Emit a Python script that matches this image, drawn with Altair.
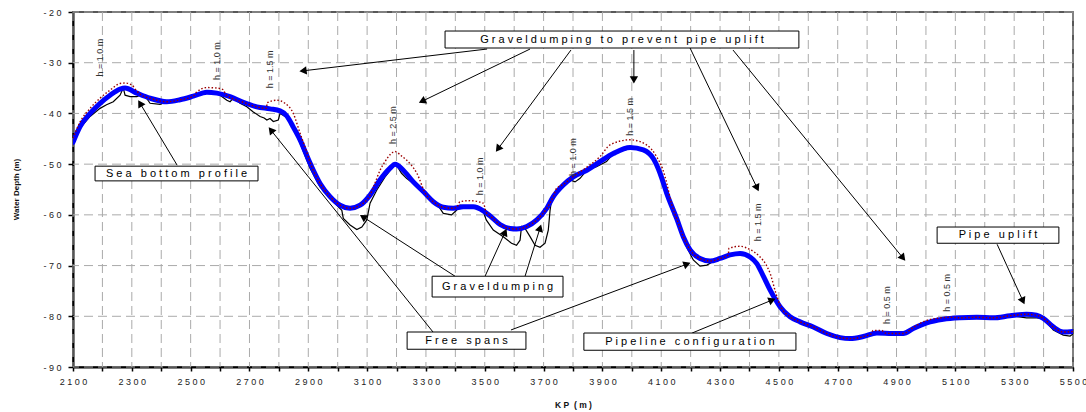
import math
import altair as alt
import pandas as pd

# ---------------- data ----------------
pipe_kp = [2100, 2124, 2158, 2192, 2226, 2260, 2277, 2317, 2362, 2419, 2464, 2509, 2555, 2589,
           2634, 2679, 2725, 2770, 2804, 2827, 2850, 2872, 2906, 2940, 2974, 3008, 3042, 3076,
           3110, 3144, 3178, 3195, 3223, 3257, 3291, 3325, 3359, 3393, 3427, 3461, 3495, 3518,
           3552, 3586, 3609, 3643, 3677, 3711, 3733, 3767, 3801, 3847, 3892, 3937, 3994, 4039,
           4073, 4096, 4119, 4153, 4175, 4198, 4232, 4266, 4300, 4334, 4368, 4402, 4425, 4448,
           4470, 4504, 4538, 4572, 4617, 4663, 4708, 4742, 4787, 4833, 4889, 4923, 4957, 5003,
           5059, 5116, 5173, 5229, 5286, 5342, 5376, 5399, 5433, 5467, 5500]
pipe_depth = [-45.7, -42.6, -40.0, -38.0, -36.4, -35.2, -35.0, -36.0, -37.0, -37.7, -37.3, -36.6,
              -35.8, -36.0, -36.7, -37.8, -38.7, -39.1, -39.5, -40.5, -42.8, -45.2, -49.8, -53.8,
              -56.4, -58.1, -58.7, -58.1, -56.1, -53.1, -50.8, -50.0, -51.2, -53.5, -55.4, -57.4,
              -58.5, -58.7, -58.4, -58.4, -59.2, -60.2, -61.9, -62.7, -62.8, -62.3, -61.0, -58.7,
              -56.4, -54.1, -52.5, -51.2, -49.5, -47.9, -46.7, -47.2, -48.9, -51.8, -55.8, -60.8,
              -64.3, -66.9, -68.6, -69.1, -68.6, -67.9, -67.6, -68.3, -69.6, -72.2, -74.8, -78.1,
              -80.1, -81.1, -82.1, -83.4, -84.2, -84.4, -84.0, -83.3, -83.4, -83.4, -82.4, -81.3,
              -80.6, -80.3, -80.2, -80.3, -79.9, -79.6, -79.8, -80.4, -82.1, -83.1, -83.0]

gravel_kp = [2100, 2124, 2158, 2192, 2226, 2260, 2277, 2300, 2317, 2330, 2362, 2419, 2464, 2509,
             2520, 2555, 2589, 2610, 2620, 2679, 2725, 2758, 2760, 2793, 2821, 2849, 2872, 2890,
             2906, 2940, 2974, 3008, 3042, 3076, 3110, 3125, 3144, 3161, 3180, 3195, 3215, 3234,
             3269, 3300, 3325, 3359, 3393, 3405, 3416, 3450, 3495, 3505, 3518, 3552, 3586, 3609,
             3643, 3677, 3711, 3733, 3744, 3767, 3801, 3847, 3892, 3926, 3994, 4050, 4084, 4105,
             4119, 4135, 4153, 4175, 4198, 4232, 4266, 4300, 4328, 4330, 4368, 4400, 4436, 4460,
             4470, 4490, 4504, 4538, 4572, 4617, 4663, 4708, 4742, 4787, 4815, 4820, 4850, 4860,
             4889, 4923, 4957, 5003, 5040, 5082, 5116, 5173, 5229, 5286, 5342, 5376, 5399, 5433,
             5467, 5500]
gravel_depth = [-44.9, -41.7, -39.0, -37.0, -35.4, -34.1, -34.0, -34.4, -35.6, -36.3, -37.0, -37.7,
                -37.3, -36.6, -35.8, -34.9, -35.0, -35.3, -36.3, -37.8, -38.7, -39.0, -37.9, -37.4,
                -38.0, -40.0, -43.9, -46.8, -49.6, -53.8, -56.4, -58.1, -58.7, -58.1, -56.1, -54.0,
                -51.2, -49.5, -48.0, -47.5, -48.3, -49.2, -51.8, -56.0, -57.4, -58.5, -58.7, -58.5,
                -57.4, -57.2, -57.7, -59.5, -60.2, -61.9, -62.7, -62.8, -62.3, -61.0, -58.7, -56.4,
                -54.8, -54.0, -52.4, -50.6, -48.5, -46.2, -45.2, -46.2, -48.5, -51.0, -53.8, -57.8,
                -60.8, -64.3, -66.9, -68.6, -69.1, -68.6, -67.9, -66.6, -66.2, -66.8, -68.3, -70.2,
                -71.5, -75.5, -77.8, -80.1, -81.1, -82.1, -83.4, -84.2, -84.4, -84.0, -83.4, -82.8,
                -82.8, -83.3, -83.4, -83.4, -82.2, -80.8, -80.4, -80.2, -80.3, -80.2, -80.3, -79.9,
                -79.6, -79.8, -80.4, -82.1, -83.1, -83.0]

bed_kp = [2100, 2124, 2158, 2192, 2214, 2237, 2260, 2271, 2277, 2294, 2317, 2328, 2350, 2362,
          2396, 2419, 2464, 2509, 2555, 2589, 2600, 2623, 2634, 2645, 2668, 2691, 2713, 2736,
          2750, 2759, 2770, 2781, 2798, 2804, 2827, 2850, 2872, 2906, 2940, 2974, 2997, 3014,
          3019, 3042, 3065, 3082, 3099, 3110, 3133, 3161, 3189, 3200, 3217, 3234, 3257, 3280,
          3300, 3336, 3359, 3387, 3404, 3416, 3461, 3495, 3505, 3529, 3563, 3591, 3608, 3620,
          3625, 3637, 3654, 3671, 3688, 3705, 3716, 3722, 3727, 3767, 3790, 3807, 3824, 3847,
          3880, 3914, 3937, 3994, 4039, 4073, 4096, 4119, 4141, 4164, 4186, 4209, 4232, 4255,
          4277, 4300, 4334, 4368, 4402, 4425, 4448, 4470, 4504, 4538, 4572, 4617, 4663, 4708,
          4742, 4787, 4833, 4878, 4923, 4957, 5003, 5059, 5116, 5173, 5229, 5286, 5342, 5376,
          5399, 5433, 5467, 5490, 5500]
bed_depth = [-45.8, -42.9, -40.6, -39.0, -38.3, -37.7, -36.4, -35.0, -36.4, -36.7, -36.7, -36.4,
             -37.0, -38.0, -38.2, -37.7, -37.4, -36.6, -35.8, -36.0, -36.4, -37.4, -37.7, -37.0,
             -38.0, -38.7, -39.7, -40.6, -40.9, -41.3, -41.0, -41.6, -41.3, -40.0, -40.8, -42.8,
             -45.9, -50.8, -54.5, -56.6, -58.1, -59.1, -60.7, -62.0, -62.9, -62.4, -61.0, -57.7,
             -55.1, -52.5, -50.5, -50.2, -51.8, -52.8, -53.8, -54.5, -55.8, -57.7, -59.7, -60.0,
             -59.1, -58.1, -58.4, -59.3, -61.0, -63.0, -64.3, -65.6, -66.0, -65.0, -62.3, -62.7,
             -64.3, -66.0, -66.4, -65.6, -63.0, -59.1, -57.1, -54.1, -53.1, -53.5, -52.8, -51.2,
             -50.5, -49.5, -47.9, -46.9, -47.2, -48.9, -51.8, -55.8, -59.0, -62.3, -66.3, -68.9,
             -70.1, -69.9, -69.2, -68.6, -67.9, -67.7, -68.3, -69.6, -72.2, -74.8, -78.1, -80.1,
             -81.1, -82.1, -83.4, -84.2, -84.4, -84.0, -83.3, -83.7, -83.4, -82.4, -81.3, -80.6,
             -80.3, -80.2, -80.3, -79.9, -80.3, -80.3, -80.4, -82.7, -83.7, -83.9, -83.5]

h_text = ["h = 1.0 m", "h = 1.0 m", "h = 1.5 m", "h = 2.5 m", "h = 1.0 m",
          "h = 1.0 m", "h = 1.5 m", "h = 1.5 m", "h = 0.5 m", "h = 0.5 m"]
h_kp = [2193, 2590, 2770, 3188, 3484, 3800, 3994, 4429, 4868, 5072]
h_depth = [-29.0, -29.7, -31.3, -42.3, -52.4, -48.6, -40.7, -61.5, -77.8, -75.4]

# a double space marks a wide word gap, a single space a narrow one (as printed)
box_text = ["Gravel dumping  to  prevent  pipe  uplift", "Sea  bottom  profile", "Gravel dumping",
            "Free  spans", "Pipeline  configuration", "Pipe  uplift"]
box_kp0 = [3365, 2175, 3321, 3236, 3837, 5038]
box_kp1 = [4568, 2729, 3766, 3640, 4558, 5452]
box_top = [-23.75, -50.4, -72.1, -83.1, -83.3, -62.4]
box_bottom = [-27.1, -53.3, -76.2, -86.5, -86.7, -65.6]

arrow_kp0 = [3508, 3654, 3793, 4007, 4198, 4344, 2454, 3399, 3501, 3637, 3324, 3589, 4205, 5242]
arrow_d0 = [-27.3, -27.3, -27.5, -27.5, -27.1, -27.5, -50.2, -72.1, -72.1, -72.1, -83.1, -82.7, -83.3, -65.8]
arrow_kp1 = [2882, 3287, 3545, 4007, 4426, 4922, 2328, 3086, 3569, 3688, 2773, 4188, 4477, 5330]
arrow_d1 = [-31.6, -37.6, -47.0, -33.4, -54.7, -68.5, -38.0, -60.4, -63.4, -62.6, -43.3, -69.7, -76.8, -77.0]

x_ticks = list(range(2100, 5501, 100))
y_ticks = list(range(-90, -19, 10))

# ---------------- layout constants ----------------
W, H = 1000, 355
XD = [2100, 5500]
YD = [-90, -20]
FONT = "Liberation Sans"
NB = "\u00a0"


def spaced(s):
    words = s.split("  ")
    out = []
    for w in words:
        out.append(" ".join(" ".join(p) for p in w.split(" ")))
    return (" " + NB + " ").join(out)


sx = W / (XD[1] - XD[0])
sy = H / (YD[1] - YD[0])
angles = []
for a, b, c, d in zip(arrow_kp0, arrow_d0, arrow_kp1, arrow_d1):
    dx = (c - a) * sx
    dy = -(d - b) * sy
    angles.append(math.degrees(math.atan2(dx, -dy)) % 360)

pipe_df = pd.DataFrame({"kp": pipe_kp, "depth": pipe_depth})
gravel_df = pd.DataFrame({"kp": gravel_kp, "depth": gravel_depth})
bed_df = pd.DataFrame({"kp": bed_kp, "depth": bed_depth})
h_df = pd.DataFrame({"kp": h_kp, "depth": h_depth, "label": h_text})
box_df = pd.DataFrame({"kp": box_kp0, "kp2": box_kp1, "depth": box_top, "depth2": box_bottom,
                       "label": [spaced(t) for t in box_text]})
box_df["kpc"] = (box_df["kp"] + box_df["kp2"]) / 2
box_df["depthc"] = (box_df["depth"] + box_df["depth2"]) / 2
arrow_df = pd.DataFrame({"kp": arrow_kp0, "depth": arrow_d0, "kp2": arrow_kp1,
                         "depth2": arrow_d1, "ang": angles})
xgrid_df = pd.DataFrame({"kp": x_ticks})
ygrid_df = pd.DataFrame({"depth": y_ticks})

x_axis = alt.Axis(
    values=x_ticks,
    labelExpr="(datum.value - 2100) % 200 == 0 ? join(split(toString(datum.value), ''), ' ') : ''",
    title="K" + NB + "P" + NB + NB + "(" + NB + "m" + NB + ")", titleFont=FONT, titleFontSize=8.5,
    titleFontWeight="bold", titleColor="#111", titleY=37, titleBaseline="middle",
    grid=False,
    domainColor="black", domainWidth=2, tickColor="black", tickWidth=1.5, tickSize=4,
    labelFont=FONT, labelFontSize=9, labelColor="#222", labelPadding=6,
    labelFlush=False, labelOverlap=False,
)
y_axis = alt.Axis(
    values=y_ticks,
    labelExpr="join(split(toString(datum.value), ''), ' ')",
    title="Water Depth (m)", titleFont=FONT, titleFontSize=8, titleFontWeight="bold",
    titleColor="#111", titleX=-57, titleY=177, titleBaseline="middle", titleAlign="center",
    grid=False,
    domainColor="black", domainWidth=2, tickColor="black", tickWidth=1.5, tickSize=5,
    labelFont=FONT, labelFontSize=9, labelColor="#222", labelPadding=7,
    labelFlush=False, labelOverlap=False,
)
xs = alt.Scale(domain=XD, nice=False, zero=False)
ys = alt.Scale(domain=YD, nice=False, zero=False)


def X(f="kp"):
    return alt.X(f"{f}:Q", scale=xs, axis=x_axis)


def Y(f="depth"):
    return alt.Y(f"{f}:Q", scale=ys, axis=y_axis)


vgrid = alt.Chart(xgrid_df).mark_rule(color="#aaaaaa", strokeWidth=1, strokeDash=[9, 5]).encode(
    x=X())
hgrid = alt.Chart(ygrid_df).mark_rule(color="#aaaaaa", strokeWidth=1, strokeDash=[9, 5]).encode(
    y=Y())

bed = alt.Chart(bed_df).mark_line(color="black", strokeWidth=1.2, clip=True).encode(
    x=X(), y=Y(), order="kp:Q")
pipe = alt.Chart(pipe_df).mark_line(color="#0000ff", strokeWidth=5, interpolate="monotone",
                                    strokeCap="round", clip=True).encode(x=X(), y=Y(), order="kp:Q")
gravel = alt.Chart(gravel_df).mark_line(color="#9b0000", strokeWidth=1.4, strokeDash=[1.5, 2],
                                        interpolate="monotone", clip=True).encode(
    x=X(), y=Y(), order="kp:Q")

hlab = alt.Chart(h_df).mark_text(font=FONT, fontSize=9, color="#333", angle=270,
                                 align="center", baseline="middle").encode(
    x=X(), y=Y(), text="label:N")

arrows = alt.Chart(arrow_df).mark_rule(color="black", strokeWidth=1).encode(
    x=X(), y=Y(), x2="kp2:Q", y2="depth2:Q")
heads = alt.Chart(arrow_df).mark_point(shape="triangle-up", filled=True, color="black",
                                       size=70, opacity=1).encode(
    x=X("kp2"), y=Y("depth2"), angle=alt.Angle("ang:Q", scale=None))

boxes = alt.Chart(box_df).mark_rect(fill="white", stroke="black", strokeWidth=1).encode(
    x=X(), x2="kp2:Q", y=Y(), y2="depth2:Q")
box_labels = alt.Chart(box_df).mark_text(font=FONT, fontSize=11, color="black",
                                         align="center", baseline="middle").encode(
    x=X("kpc"), y=Y("depthc"), text="label:N")

chart = alt.layer(vgrid, hgrid, bed, pipe, gravel, hlab, arrows, heads, boxes, box_labels).properties(
    width=W, height=H,
    autosize=alt.AutoSizeParams(type="none"),
    padding={"left": 73, "top": 12, "right": 13, "bottom": 45},
    background="white",
).configure_view(stroke="#222", strokeWidth=1.5)

chart.save("out.html", embed_options={"renderer": "svg", "actions": False})
